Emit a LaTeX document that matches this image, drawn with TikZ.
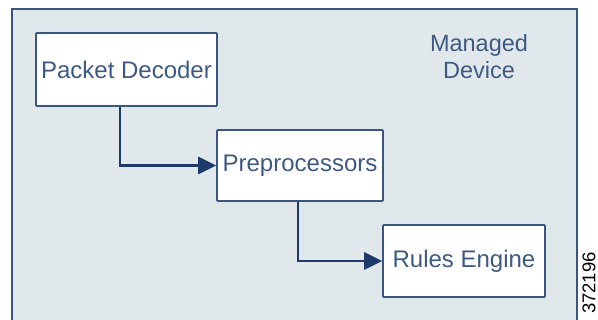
\documentclass[tikz,border=0pt]{standalone}
\usepackage{fontspec}
\setmainfont{Liberation Sans}
\usepackage{tikz}
\usetikzlibrary{arrows.meta,positioning,calc}
\definecolor{devfill}{HTML}{E1E8EC}
\definecolor{devline}{HTML}{3A5580}
\definecolor{flowcol}{HTML}{1E3A6A}
\definecolor{txtcol}{HTML}{3F5A82}
\tikzset{
  stage/.style   = {draw=devline, fill=white, line width=1.6pt, rounded corners=0.8pt,
                    inner sep=0pt, font=\fontsize{24}{28}\selectfont, text=txtcol},
  flow/.style    = {draw=flowcol, line width=2.8pt, -{Triangle[length=18pt,width=17pt]}},
  devlbl/.style  = {align=center, font=\fontsize{23.5}{27}\selectfont, text=txtcol},
  figid/.style   = {rotate=90, font=\fontsize{18.5}{22}\selectfont, inner sep=0pt},
}

\begin{document}
\begin{tikzpicture}[x=1pt, y=-1pt]
  \useasboundingbox (0,0) rectangle (598,320);
  % managed device frame, open at the bottom
  \fill[devfill] (12,9) rectangle (577,320);
  \draw[devline, line width=2pt] (12,320) -- (12,9) -- (577,9) -- (577,320);
  \node[devlbl] (dev) at (479,57) {Managed\\Device};

  \node[stage, minimum width=181pt, minimum height=73pt] (decoder) at (126.5,69.5) {Packet Decoder};
  \node[stage, minimum width=166pt, minimum height=71pt] (preproc) at (300,165.5) {Preprocessors};
  \node[stage, minimum width=162pt, minimum height=72pt] (rules) at (464,261) {Rules Engine};

  \draw[flow] ([xshift=-6.5pt]decoder.south) |- (preproc.west);
  \draw[flow] ([xshift=-2pt]preproc.south) |- (rules.west);

  \node[figid] (fid) at (589,283) {372196};
\end{tikzpicture}
\end{document}
